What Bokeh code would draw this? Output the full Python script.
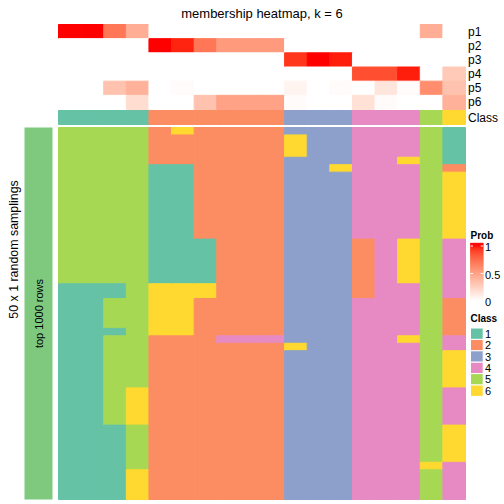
import numpy as np
from bokeh.plotting import figure
from bokeh.models import Range1d, ColumnDataSource, LinearColorMapper
from bokeh.transform import transform
from bokeh.core.properties import value
from bokeh.embed import file_html
from bokeh.resources import INLINE

# ---------------------------------------------------------------- data
TITLE = "membership heatmap, k = 6"
ROW_TITLE = "50 x 1 random samplings"
ROW_GROUP = "top 1000 rows"
ROW_GROUP_COLOR = "#7FC97F"

class_levels = ["1", "2", "3", "4", "5", "6"]
class_colors = ["#66C2A5", "#FC8D62", "#8DA0CB", "#E78AC3", "#A6D854", "#FFD92F"]

# consensus class of each of the 18 samples (columns)
consensus_class = [1, 1, 1, 1, 2, 2, 2, 2, 2, 2, 3, 3, 3, 4, 4, 4, 5, 6]

# membership probabilities of each sample
prob_names = ["p1", "p2", "p3", "p4", "p5", "p6"]
p1 = [1.00, 1.00, 0.68, 0.42, 0.00, 0.00, 0.00, 0.00, 0.00, 0.00, 0.00, 0.00, 0.00, 0.00, 0.00, 0.00, 0.42, 0.00]
p2 = [0.00, 0.00, 0.00, 0.00, 1.00, 0.96, 0.68, 0.52, 0.52, 0.52, 0.00, 0.00, 0.00, 0.00, 0.00, 0.00, 0.00, 0.00]
p3 = [0.00, 0.00, 0.00, 0.00, 0.00, 0.00, 0.00, 0.00, 0.00, 0.00, 0.92, 1.00, 0.97, 0.00, 0.00, 0.00, 0.00, 0.00]
p4 = [0.00, 0.00, 0.00, 0.00, 0.00, 0.00, 0.00, 0.00, 0.00, 0.00, 0.00, 0.00, 0.00, 0.84, 0.84, 0.97, 0.00, 0.28]
p5 = [0.00, 0.00, 0.32, 0.40, 0.00, 0.02, 0.00, 0.00, 0.00, 0.00, 0.06, 0.00, 0.02, 0.00, 0.13, 0.02, 0.58, 0.32]
p6 = [0.00, 0.00, 0.00, 0.18, 0.00, 0.00, 0.32, 0.48, 0.48, 0.48, 0.02, 0.00, 0.00, 0.16, 0.02, 0.00, 0.00, 0.40]
prob_ticks = [0, 0.5, 1]

# class assigned to each sample (columns) in each of the 50 random samplings (rows)
sampling_classes = [
    "555526222233344451",
    "555522222263344451",
    "555522222263344451",
    "555522222263344451",
    "555522222233344651",
    "555511222233644452",
    "555511222233344456",
    "555511222233344456",
    "555511222233344456",
    "555511222233344456",
    "555511222233344456",
    "555511222233344456",
    "555511222233344456",
    "555511222233344456",
    "555511222233344456",
    "555511122233324654",
    "555511122233324654",
    "555511122233324654",
    "555511122233324654",
    "555511122233324654",
    "555511122233324654",
    "111566622233324454",
    "111566622233324454",
    "115566222233344452",
    "115566222233344452",
    "115566222233344452",
    "115566222233344452",
    "111566222233344452",
    "115522244433344654",
    "115522222263344454",
    "115522222233344456",
    "115522222233344456",
    "115522222233344456",
    "115522222233344456",
    "115522222233344456",
    "115622222233344454",
    "115622222233344454",
    "115622222233344454",
    "115622222233344454",
    "115622222233344454",
    "111522222233344456",
    "111522222233344456",
    "111522222233344456",
    "111522222233344456",
    "111522222233344456",
    "111522222233344464",
    "111622222233344454",
    "111622222233344454",
    "111622222233344454",
    "111622222233344454",
]

# ---------------------------------------------------------------- colour ramp (white -> red, LAB space)
def _lab_ramp(c0, c1, n=256):
    def lin(u):
        return u / 12.92 if u <= 0.04045 else ((u + 0.055) / 1.055) ** 2.4

    def gam(u):
        u = min(max(u, 0.0), 1.0)
        return 12.92 * u if u <= 0.0031308 else 1.055 * u ** (1 / 2.4) - 0.055

    wn = (0.95047, 1.0, 1.08883)

    def f(t):
        return t ** (1 / 3) if t > 0.008856 else 7.787 * t + 16 / 116

    def finv(t):
        return t ** 3 if t ** 3 > 0.008856 else (t - 16 / 116) / 7.787

    def to_lab(hexc):
        r, g, b = (lin(int(hexc[i:i + 2], 16) / 255) for i in (1, 3, 5))
        X = (0.4124 * r + 0.3576 * g + 0.1805 * b) / wn[0]
        Yv = (0.2126 * r + 0.7152 * g + 0.0722 * b) / wn[1]
        Z = (0.0193 * r + 0.1192 * g + 0.9505 * b) / wn[2]
        fx, fy, fz = f(X), f(Yv), f(Z)
        return 116 * fy - 16, 500 * (fx - fy), 200 * (fy - fz)

    def to_hex(L, a, b):
        fy = (L + 16) / 116
        fx, fz = fy + a / 500, fy - b / 200
        X, Yv, Z = wn[0] * finv(fx), wn[1] * finv(fy), wn[2] * finv(fz)
        r = 3.2406 * X - 1.5372 * Yv - 0.4986 * Z
        g = -0.9689 * X + 1.8758 * Yv + 0.0415 * Z
        bb = 0.0557 * X - 0.2040 * Yv + 1.0570 * Z
        return "#%02X%02X%02X" % tuple(int(round(gam(u) * 255)) for u in (r, g, bb))

    l0, l1 = to_lab(c0), to_lab(c1)
    out = []
    for i in range(n):
        t = i / (n - 1)
        out.append(to_hex(*[l0[j] + (l1[j] - l0[j]) * t for j in range(3)]))
    return out


prob_mapper = LinearColorMapper(palette=_lab_ramp("#FFFFFF", "#FF0000"), low=0, high=1)

# ---------------------------------------------------------------- layout (picture pixels)
W, H = 504, 504
ORIGIN = 0
HM_L, HM_R, HM_T, HM_B = 58, 465, 127, 499
n_cols = len(consensus_class)
n_rows = len(sampling_classes)
CW = (HM_R - HM_L) / n_cols
RH = (HM_B - HM_T) / n_rows


def X(px):
    return (px - HM_L) / CW


def Y(py):
    return (py - HM_T) / RH


FONT = value("Liberation Sans")
SEAM = 1.0  # outline in the fill colour hides anti-aliasing seams between cells

p = figure(width=W, height=H,
           x_range=Range1d(X(ORIGIN), X(ORIGIN + W)),
           y_range=Range1d(Y(ORIGIN + H), Y(ORIGIN)),
           x_axis_type=None, y_axis_type=None,
           output_backend="svg", toolbar_location=None,
           min_border=0, outline_line_color=None,
           background_fill_color="white", border_fill_color="white")

# ---- main heatmap: one block per run of equal class within a column
bl, br, bt, bb, bc = [], [], [], [], []
for c in range(n_cols):
    start = 0
    for r in range(1, n_rows + 1):
        if r == n_rows or sampling_classes[r][c] != sampling_classes[start][c]:
            bl.append(c)
            br.append(c + 1)
            bt.append(start)
            bb.append(r)
            bc.append(class_colors[int(sampling_classes[start][c]) - 1])
            start = r
p.quad(left=bl, right=br, top=bt, bottom=bb, fill_color=bc, line_color=bc, line_width=SEAM)

# ---- top annotation: probabilities
ANN_T, ANN_ROW_H = 24, (109 - 24) / 6
prob_rows = [p1, p2, p3, p4, p5, p6]
ax, ay, av = [], [], []
for k, vals in enumerate(prob_rows):
    yc = Y(ANN_T + (k + 0.5) * ANN_ROW_H)
    for c, v in enumerate(vals):
        ax.append(c + 0.5)
        ay.append(yc)
        av.append(v)
src = ColumnDataSource(dict(x=ax, y=ay, v=av))
p.rect(x="x", y="y", width=1, height=ANN_ROW_H / RH, source=src,
       fill_color=transform("v", prob_mapper), line_color=transform("v", prob_mapper), line_width=SEAM)

# ---- top annotation: class
CLS_T, CLS_B = 110, 124
cc = [class_colors[k - 1] for k in consensus_class]
p.rect(x=[c + 0.5 for c in range(n_cols)], y=[Y((CLS_T + CLS_B) / 2)] * n_cols,
       width=1, height=(CLS_B - CLS_T) / RH, fill_color=cc, line_color=cc, line_width=SEAM)

# annotation names
ann_names = prob_names + ["Class"]
ann_y = [Y(ANN_T + (k + 0.5) * ANN_ROW_H) for k in range(6)] + [Y((CLS_T + CLS_B) / 2)]
p.text(x=[X(467.5)] * 7, y=ann_y, text=ann_names, text_font=FONT, text_font_size=value("12px"),
       text_align="left", text_baseline="middle", text_color="black")

# title
p.text(x=[n_cols / 2], y=[Y(12.5)], text=[TITLE], text_font=FONT, text_font_size=value("13px"),
       text_align="center", text_baseline="middle", text_color="black")

# ---- left row-group bar and titles
p.quad(left=[X(24)], right=[X(52)], top=[0], bottom=[n_rows], fill_color=ROW_GROUP_COLOR,
       line_color=None)
p.text(x=[X(38)], y=[n_rows / 2], text=[ROW_GROUP], angle=np.pi / 2, text_font=FONT,
       text_font_size=value("11px"), text_align="center", text_baseline="middle", text_color="black")
p.text(x=[X(13)], y=[Y(249)], text=[ROW_TITLE], angle=np.pi / 2, text_font=FONT,
       text_font_size=value("12.4px"), text_align="center", text_baseline="middle", text_color="black")

# ---- legend: Prob colour bar
LEG_L, LEG_R = 470, 482.7
CB_V0, CB_PX_PER_UNIT = 300.5, 55.0
CB_TOP = 242.5
p.text(x=[X(LEG_L)], y=[Y(234.5)], text=["Prob"], text_font=FONT, text_font_size=value("10px"),
       text_font_style="bold", text_align="left", text_baseline="middle", text_color="black")
n_sl = int((CB_V0 - CB_TOP) * 2)
sl_top = [CB_TOP + i * 0.5 for i in range(n_sl)]
cb = ColumnDataSource(dict(
    top=[Y(t) for t in sl_top],
    bottom=[Y(t + 0.5) for t in sl_top],
    v=[min(1.0, (CB_V0 - (t + 0.25)) / CB_PX_PER_UNIT) for t in sl_top]))
p.quad(left=X(LEG_L), right=X(LEG_R), top="top", bottom="bottom", source=cb,
       fill_color=transform("v", prob_mapper), line_color=transform("v", prob_mapper), line_width=0.4)
tick_y = [Y(CB_V0 - t * CB_PX_PER_UNIT) for t in prob_ticks]
p.segment(x0=[X(LEG_L)] * 3, x1=[X(LEG_L + 2.5)] * 3, y0=tick_y, y1=tick_y, line_color="white", line_width=1)
p.segment(x0=[X(LEG_R - 2.5)] * 3, x1=[X(LEG_R)] * 3, y0=tick_y, y1=tick_y, line_color="white", line_width=1)
p.text(x=[X(484.5)] * 3, y=[Y(CB_V0 - t * CB_PX_PER_UNIT + 1) for t in prob_ticks],
       text=[("%g" % t) for t in prob_ticks], text_font=FONT, text_font_size=value("11px"),
       text_align="left", text_baseline="middle", text_color="black")

# ---- legend: Class
p.text(x=[X(LEG_L)], y=[Y(318)], text=["Class"], text_font=FONT, text_font_size=value("10px"),
       text_font_style="bold", text_align="left", text_baseline="middle", text_color="black")
KEY_T, KEY_H = 327.5, 11.4
key_t = [KEY_T + i * KEY_H for i in range(len(class_levels))]
p.quad(left=X(LEG_L), right=X(LEG_R), top=[Y(t) for t in key_t], bottom=[Y(t + KEY_H) for t in key_t],
       fill_color=class_colors, line_color="white", line_width=1)
p.text(x=[X(484.5)] * len(class_levels), y=[Y(t + KEY_H / 2) for t in key_t], text=class_levels,
       text_font=FONT, text_font_size=value("11px"), text_align="left", text_baseline="middle",
       text_color="black")

open("out.html", "w").write(file_html(p, INLINE))
